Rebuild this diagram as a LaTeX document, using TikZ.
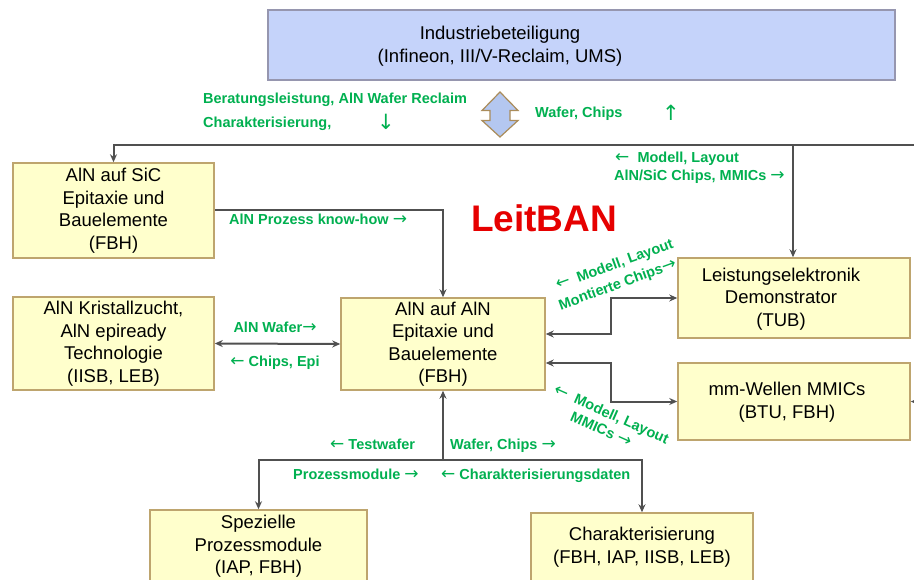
\documentclass[tikz,border=0pt]{standalone}
\usepackage{fontspec}
\setmainfont{Liberation Sans}
\newfontfamily\arrf{DejaVu Sans}
\newcommand{\ra}{{\arrf\mdseries\fontsize{17}{18}\selectfont →}}
\newcommand{\la}{{\arrf\mdseries\fontsize{17}{18}\selectfont ←}}
\usetikzlibrary{arrows.meta}
\definecolor{boxfill}{RGB}{255,255,204}
\definecolor{boxdraw}{RGB}{190,165,110}
\definecolor{topfill}{RGB}{197,211,250}
\definecolor{topdraw}{RGB}{150,150,175}
\definecolor{dafill}{RGB}{180,199,240}
\definecolor{dadraw}{RGB}{170,140,90}
\definecolor{conncol}{RGB}{80,80,80}
\definecolor{grn}{RGB}{0,176,80}
\definecolor{leitred}{RGB}{230,0,0}
\tikzset{
  box/.style={draw=boxdraw, fill=boxfill, line width=1.5pt, inner sep=0pt, align=center,
    font=\fontsize{18.5}{22.5}\selectfont},
  btext/.style={align=center, font=\fontsize{18.5}{22.5}\selectfont, inner sep=0pt},
  conn/.style={draw=conncol, line width=2pt, -{Stealth[length=8pt,width=7pt]}},
  conn2/.style={draw=conncol, line width=2pt, {Stealth[length=8pt,width=7pt]}-{Stealth[length=8pt,width=7pt]}},
  gl/.style={text=grn, font=\fontsize{14.5}{18}\selectfont\bfseries, inner sep=0pt},
  garrow/.style={text=grn, font=\fontsize{21}{22}\selectfont\arrf, inner sep=0pt},
}
\begin{document}
\begin{tikzpicture}[x=1pt,y=-1pt]
\clip (0,0) rectangle (914,580);
\fill[white] (0,0) rectangle (914,580);

% top box
\node[draw=topdraw, fill=topfill, line width=1.5pt, minimum width=627pt, minimum height=70pt, inner sep=0pt] (ind) at (581.5,45) {};
\node[btext, font=\fontsize{18.5}{23}\selectfont] (indt) at (500,46) {Industriebeteiligung\\(Infineon, III/V-Reclaim, UMS)};

% double arrow
\filldraw[fill=dafill, draw=dadraw, line width=1.2pt] (500,92) -- (518,110.5) -- (510,110.5) -- (510,120.5) -- (518,120.5) -- (500,137) -- (482,120.5) -- (490,120.5) -- (490,110.5) -- (482,110.5) -- cycle;

% boxes
\node[box, minimum width=201pt, minimum height=95pt] (sic) at (113.5,210.5) {AlN auf SiC\\Epitaxie und\\Bauelemente\\(FBH)};
\node[box, minimum width=201pt, minimum height=93pt] (kris) at (113.5,343.5) {AlN Kristallzucht,\\AlN epiready\\Technologie\\(IISB, LEB)};
\node[box, minimum width=204pt, minimum height=92pt] (aln) at (443,344) {AlN auf AlN\\Epitaxie und\\Bauelemente\\(FBH)};
\node[box, minimum width=232pt, minimum height=80pt] (lei) at (794,298) {};
\node[btext] (leit) at (781,299) {Leistungselektronik\\Demonstrator\\(TUB)};
\node[box, minimum width=232pt, minimum height=77pt] (mm) at (794,401.5) {};
\node[btext] (mmt) at (787,402) {mm-Wellen MMICs\\(BTU, FBH)};
\node[box, minimum width=217pt, minimum height=80pt] (spz) at (258.5,550) {};
\node[btext] (spzt) at (258.5,546.5) {Spezielle\\Prozessmodule\\(IAP, FBH)};
\node[box, minimum width=222pt, minimum height=77pt] (chr) at (642,551.5) {};
\node[btext] (chrt) at (642,547) {Charakterisierung\\(FBH, IAP, IISB, LEB)};

% LeitBAN
\node[text=leitred, font=\fontsize{37}{40}\selectfont\bfseries, inner sep=0pt] (leitban) at (544,218) {LeitBAN};

% connectors
\coordinate (tr) at (930,145);
\coordinate (tj) at (793,145);
\draw[conn] (tr) -| (sic.north);
\draw[conn] (tj) -- (tj |- lei.north);
\draw[conn] (sic.east) -| (aln.north);
\draw[conn2] (kris.east) -- (aln.west);
\draw[conn2] ([yshift=10pt]aln.east) -- ++(65,0) |- (lei.west);
\draw[conn2] ([yshift=-19pt]aln.east) -- ++(65,0) |- (mm.west);
\coordinate (re) at (940,402);
\draw[conn] (re) -- (mm.east);
\coordinate (bj) at (443,460);
\draw[conn] (bj) -- (aln.south);
\draw[conn] (bj) -| (spz.north);
\draw[conn] (bj) -| (chr.north);

% green labels
\node[gl, anchor=base west] (l1) at (203,104) {Beratungsleistung, AlN Wafer Reclaim};
\node[gl, anchor=base west] (l2) at (203,128) {Charakterisierung,};
\node[garrow] (l3) at (386,122) {↓};
\node[gl, anchor=base west] (l4) at (535,118) {Wafer, Chips};
\node[garrow] (l5) at (671,113) {↑};
\node[gl, anchor=base west] (l6) at (615,163) {\la\ \ Modell, Layout};
\node[gl, anchor=base west] (l7) at (614,181) {AlN/SiC Chips, MMICs \ra};
\node[gl, anchor=base west] (l8) at (229,225) {AlN Prozess know-how \ra};
\node[gl] (l9) at (275,327) {AlN Wafer\ra};
\node[gl] (l10) at (275,363) {\la\ Chips, Epi};
\node[gl, anchor=base west] (l11) at (330,449) {\la\ Testwafer};
\node[gl, anchor=base west] (l12) at (450,449) {Wafer, Chips \ra};
\node[gl, anchor=base west] (l13) at (293,479) {Prozessmodule \ra};
\node[gl, anchor=base west] (l14) at (441,479) {\la\ Charakterisierungsdaten};
% rotated labels
\node[gl, font=\fontsize{14.5}{20}\selectfont\bfseries, align=left, anchor=north west, rotate=20] (l15) at (554,280)
  {\la\ \ Modell, Layout\\\hspace*{-4pt}Montierte Chips\ra};
\node[gl, font=\fontsize{14.5}{17.5}\selectfont\bfseries, align=left, anchor=north west, rotate=-24] (l17) at (557,384)
  {\la\ \ Modell, Layout\\\hspace*{26pt}MMICs \ra};
\end{tikzpicture}
\end{document}
